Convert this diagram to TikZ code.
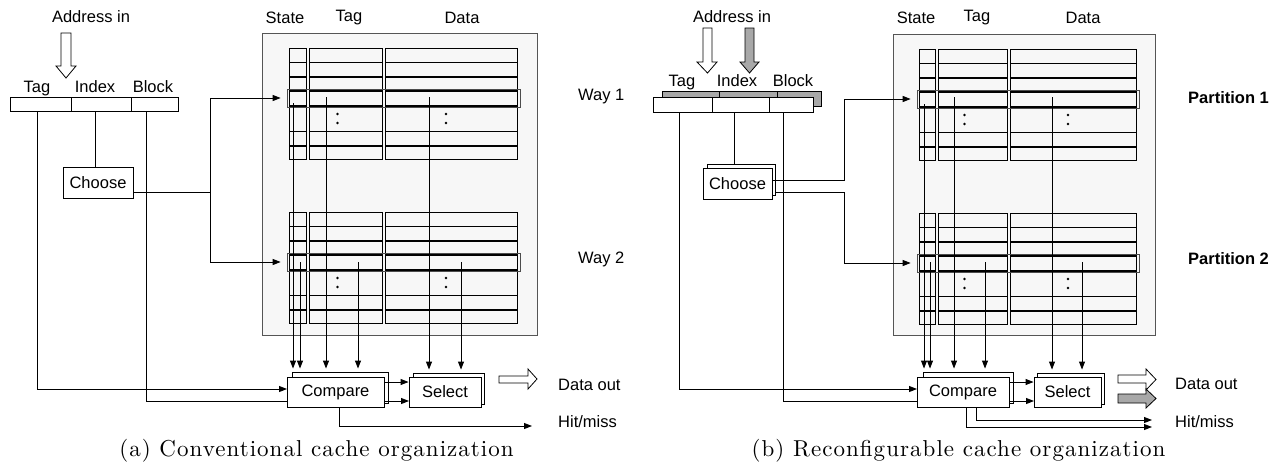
\documentclass[tikz,border=0pt]{standalone}
\usepackage{fontspec}
\newfontfamily\lsans{Liberation Sans}
\newfontfamily\capfont{lmroman10-regular}[Extension=.otf, LetterSpace=4.5]
\usetikzlibrary{arrows.meta,fit,calc}
\definecolor{boxfill}{HTML}{F7F7F7}
\definecolor{boxline}{HTML}{555555}
\definecolor{shade}{HTML}{A8A8A8}
\tikzset{
  lbl/.style={font=\lsans\fontsize{16.5}{19}\selectfont, inner sep=0pt},
  blbl/.style={font=\lsans\bfseries\fontsize{16.5}{19}\selectfont, inner sep=0pt},
  captext/.style={font=\capfont\fontsize{23}{28}\selectfont, inner sep=0pt, anchor=base},
  wire/.style={line width=0.9pt},
  arr/.style={wire, -{Triangle[length=8pt,width=6pt]}},
  box/.style={draw, line width=0.9pt, fill=white, inner sep=0pt, font=\lsans\fontsize{16.5}{19}\selectfont},
  field/.style={draw, line width=0.9pt, fill=white, inner sep=0pt},
  gfield/.style={draw, line width=0.9pt, fill=shade, inner sep=0pt},
  arraybox/.style={draw=boxline, fill=boxfill, line width=1pt, inner sep=0pt},
  col/.style={draw, line width=0.8pt},
  rowline/.style={line width=1.5pt},
  hl/.style={draw=black!70, line width=0.7pt, inner sep=0pt},
  hollow/.style={draw, fill=white, line width=0.8pt, line join=miter},
  grayarrow/.style={draw, fill=shade, line width=0.8pt, line join=miter},
}
% #1 name, #2 top, #3 sL, #4 sR, #5 tL, #6 tR, #7 dL, #8 dR
\newcommand\cacheblk[8]{%
  \foreach \a/\b in {#3/#4,#5/#6,#7/#8}{
    \draw[col] (\a,#2) rectangle (\b,{#2+111.5});
    \foreach \r in {14.5,29,43,58,83.5,98}
      \draw[rowline] (\a,{#2+\r}) -- (\b,{#2+\r});
  }
  \pgfmathsetmacro\cbTagDot{(#5+#6)/2-8}
  \pgfmathsetmacro\cbDataDot{(#7+#8)/2-5}
  \foreach \dx in {\cbTagDot,\cbDataDot}
    \foreach \dy in {66,75}
      \fill (\dx,{#2+\dy}) circle (1.3pt);
  \node[hl, fit={({#3-2},{#2+41}) ({#8+3.5},{#2+59})}] (#1) {};
}
\begin{document}
\begin{tikzpicture}[x=1pt,y=-1pt]
\useasboundingbox (0,0) rectangle (1276,466);

%%%%%%%%%%%%%%%%%%%% LEFT PANEL %%%%%%%%%%%%%%%%%%%%
\node[lbl] (addrA) at (91,17) {Address in};
\draw[hollow] (61,33) -- (71,33) -- (71,66) -- (76,66) -- (66,78) -- (56,66) -- (61,66) -- cycle;
\node[lbl, anchor=base] (ltagA) at (37,92) {Tag};
\node[lbl, anchor=base] (lidxA) at (95,92) {Index};
\node[lbl, anchor=base] (lblkA) at (153,92) {Block};
\node[field, minimum width=61pt, minimum height=14pt] (ftagA) at (40.5,104) {};
\node[field, minimum width=60pt, minimum height=14pt] (fidxA) at (101,104) {};
\node[field, minimum width=47pt, minimum height=14pt] (fblkA) at (154.5,104) {};

\node[lbl] (hstA) at (285,18) {State};
\node[lbl] (htgA) at (349,18) {Tag};
\node[lbl] (hdtA) at (462,18) {Data};
\node[arraybox, minimum width=275pt, minimum height=302pt] (arrA) at (399.5,184) {};
\cacheblk{hl1A}{48}{289}{306}{309}{382}{385}{517}
\cacheblk{hl2A}{212}{289}{306}{309}{382}{385}{517}
\node[lbl, anchor=west] (way1) at (578,97) {Way 1};
\node[lbl, anchor=west] (way2) at (578,259) {Way 2};

\coordinate (s1A) at (293,103);
\coordinate (t1A) at (326,97);
\coordinate (d1A) at (429,97);
\coordinate (s2A) at (300,262);
\coordinate (t2A) at (358,262);
\coordinate (d2A) at (461,262);
\coordinate (cinA) at (287,389);
\coordinate (sinA) at (409,401);

\node[box, minimum width=70pt, minimum height=31pt] (chA) at (98,182.5) {Choose};

\node[box, minimum width=96pt, minimum height=31pt] (cmpbA) at (340,387.5) {};
\node[box, minimum width=71pt, minimum height=31pt] (selbA) at (448.5,388.5) {};

% wires
\draw[arr] ([xshift=-3.5pt]ftagA.south) |- (cinA);
\draw[wire] ([xshift=-6pt]fidxA.south) -- ([xshift=-3pt]chA.north);
\draw[arr] ([xshift=-8.5pt]fblkA.south) |- (sinA);
\coordinate (jA) at (210,192);
\draw[wire] ([yshift=-9.5pt]chA.east) -- (jA);
\draw[arr, shorten >=6pt] (jA) |- (hl1A.west);
\draw[arr, shorten >=6pt] (jA) |- (hl2A.west);
\foreach \p in {s1A,s2A,t1A,t2A}
  \draw[arr, shorten >=3pt] (\p) -- (\p |- cmpbA.north);
\foreach \p in {d1A,d2A}
  \draw[arr, shorten >=3pt] (\p) -- (\p |- selbA.north);

\node[box, minimum width=97pt, minimum height=30pt] (cmpA) at (335.5,392) {Compare};
\node[box, minimum width=72pt, minimum height=30pt] (selA) at (445,392) {Select};
\draw[arr] ([yshift=10pt]cmpA.east) -- ([yshift=10pt]selA.west);

\draw[hollow] (499,376) -- (528,376) -- (528,369) -- (537,379) -- (528,389) -- (528,383) -- (499,383) -- cycle;
\node[lbl, anchor=west] (doutA) at (558,384.5) {Data out};
\node[lbl, anchor=west] (hitA) at (558,422) {Hit/miss};
\draw[arr] ([xshift=3.5pt]cmpA.south) |- ([xshift=-26pt,yshift=-4pt]hitA.west);

\node[captext] (capA) at (316.5,456) {(a) Conventional cache organization};

%%%%%%%%%%%%%%%%%%%% RIGHT PANEL %%%%%%%%%%%%%%%%%%%%
\node[lbl] (addrB) at (732,17) {Address in};
\draw[hollow] (703,28) -- (712,28) -- (712,62) -- (717,62) -- (707.5,73) -- (697,62) -- (703,62) -- cycle;
\draw[grayarrow] (745,28) -- (754,28) -- (754,62) -- (759,62) -- (749.5,73) -- (740,62) -- (745,62) -- cycle;
\node[lbl, anchor=base] (ltagB) at (682,86) {Tag};
\node[lbl, anchor=base] (lidxB) at (737,86) {Index};
\node[lbl, anchor=base] (lblkB) at (793,86) {Block};
\node[gfield, minimum width=57pt, minimum height=15pt] (gtagB) at (690.5,98.5) {};
\node[gfield, minimum width=58pt, minimum height=15pt] (gidxB) at (748,98.5) {};
\node[gfield, minimum width=44pt, minimum height=15pt] (gblkB) at (799,98.5) {};
\node[field, minimum width=59pt, minimum height=15pt] (ftagB) at (682.5,104.5) {};
\node[field, minimum width=57pt, minimum height=15pt] (fidxB) at (740.5,104.5) {};
\node[field, minimum width=44pt, minimum height=15pt] (fblkB) at (791,104.5) {};

\node[lbl] (hstB) at (916,18) {State};
\node[lbl] (htgB) at (977,18) {Tag};
\node[lbl] (hdtB) at (1083,18) {Data};
\node[arraybox, minimum width=262pt, minimum height=301pt] (arrB) at (1024,184.5) {};
\cacheblk{hl1B}{49}{919}{935}{938}{1007}{1010}{1136}
\cacheblk{hl2B}{213}{919}{935}{938}{1007}{1010}{1136}
\node[blbl, anchor=west] (part1) at (1188,98) {Partition 1};
\node[blbl, anchor=west] (part2) at (1188,259) {Partition 2};

\coordinate (s1B) at (924,104);
\coordinate (t1B) at (954,97);
\coordinate (d1B) at (1052,97);
\coordinate (s2B) at (930,262);
\coordinate (t2B) at (985,262);
\coordinate (d2B) at (1082,262);
\coordinate (cinB) at (917,389);
\coordinate (sinB) at (1034,401);

\node[box, minimum width=68pt, minimum height=31pt] (chbB) at (741,179.5) {};
\node[box, minimum width=69pt, minimum height=31pt] (chB) at (737.5,183.5) {Choose};

\node[box, minimum width=90pt, minimum height=31pt] (cmpbB) at (968,387.5) {};
\node[box, minimum width=67pt, minimum height=31pt] (selbB) at (1070.5,388.5) {};

\draw[arr] ([xshift=-3.5pt]ftagB.south) |- (cinB);
\draw[wire] ([xshift=-6.5pt]fidxB.south) -- ([xshift=-7pt]chbB.north);
\draw[arr] ([xshift=-8pt]fblkB.south) |- (sinB);
\coordinate (jB) at (844,180);
\draw[arr, shorten >=6pt] ([yshift=3.5pt]chB.east) -| (jB |- hl1B.west) -- (hl1B.west);
\draw[arr, shorten >=6pt] ([yshift=-12.5pt]chbB.east) -| (jB |- hl2B.west) -- (hl2B.west);
\foreach \p in {s1B,s2B,t1B,t2B}
  \draw[arr, shorten >=3pt] (\p) -- (\p |- cmpbB.north);
\foreach \p in {d1B,d2B}
  \draw[arr, shorten >=3pt] (\p) -- (\p |- selbB.north);

\node[box, minimum width=92pt, minimum height=30pt] (cmpB) at (963,392) {Compare};
\node[box, minimum width=67pt, minimum height=30pt] (selB) at (1067.5,392) {Select};
\draw[arr] ([yshift=10pt]cmpB.east) -- ([yshift=10pt]selB.west);

\draw[hollow] (1118,375) -- (1146,375) -- (1146,369) -- (1156,379.5) -- (1146,390) -- (1146,383) -- (1118,383) -- cycle;
\draw[grayarrow] (1118,394) -- (1146,394) -- (1146,389) -- (1156,398.5) -- (1146,408) -- (1146,403) -- (1118,403) -- cycle;
\node[lbl, anchor=west] (doutB) at (1175,384) {Data out};
\node[lbl, anchor=west] (hitB) at (1175,422) {Hit/miss};
\draw[arr] ([xshift=13pt]cmpB.south) |- ([xshift=-23pt,yshift=2pt]hitB.west);
\draw[arr] ([xshift=3pt]cmpB.south) |- ([xshift=-23pt,yshift=-5pt]hitB.west);

\node[captext] (capB) at (958.5,456) {(b) Reconfigurable cache organization};
\end{tikzpicture}
\end{document}
